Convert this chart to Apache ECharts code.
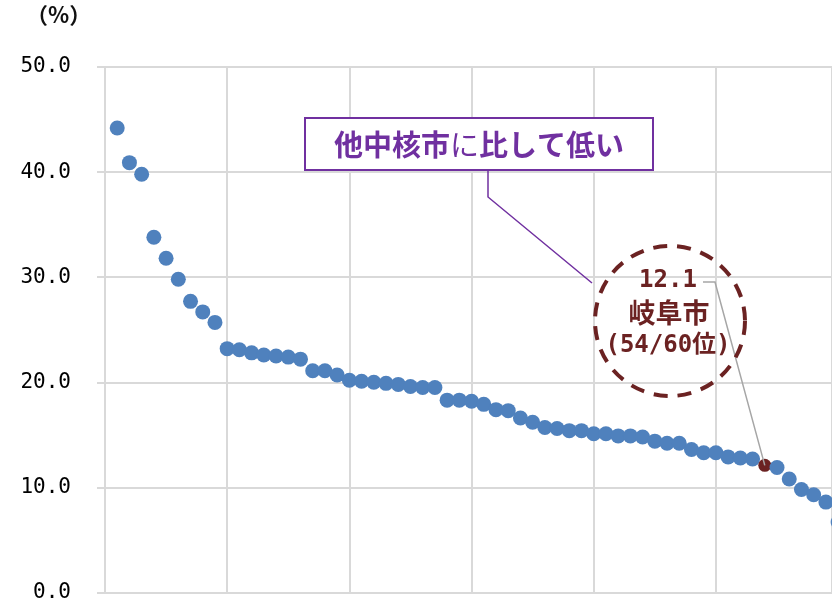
<!DOCTYPE html>
<html>
<head>
<meta charset="utf-8">
<script src="https://cdn.jsdelivr.net/npm/echarts@6/dist/echarts.min.js"></script>
<style>
  html, body { margin: 0; padding: 0; background: #fff; }
  #main { width: 832px; height: 603px; }
</style>
</head>
<body>
<div id="main"></div>
<script>
// 中核市60市の値（降順）
var ranks = [];
for (var i = 1; i <= 60; i++) ranks.push(i);
var values = [
  44.2, 40.9, 39.8, 33.8, 31.8, 29.8, 27.7, 26.7, 25.7, 23.2,
  23.1, 22.8, 22.6, 22.5, 22.4, 22.2, 21.1, 21.1, 20.7, 20.2,
  20.1, 20.0, 19.9, 19.8, 19.6, 19.5, 19.5, 18.3, 18.3, 18.2,
  17.9, 17.4, 17.3, 16.6, 16.2, 15.7, 15.6, 15.4, 15.4, 15.1,
  15.1, 14.9, 14.9, 14.8, 14.4, 14.2, 14.2, 13.6, 13.3, 13.3,
  12.9, 12.8, 12.7, 12.1, 11.9, 10.8, 9.8, 9.3, 8.6, 6.7
];
var yTicks = [0, 10, 20, 30, 40, 50];
var gifuRank = 54;
var calloutTitle = '他中核市に比して低い';
var gifuLabel = ['12.1', '岐阜市', '(54/60位)'];

var numFont = "'DejaVu Sans Mono', 'Noto Sans CJK JP', monospace";
var cjkFont = "'Noto Sans CJK JP', sans-serif";
var maroon = '#6b2222';
var purple = '#7030a0';

var chart = echarts.init(document.getElementById('main'));

var seriesData = ranks.map(function (r, i) {
  var item = { value: [r, values[i]] };
  if (r === gifuRank) {
    item.symbolSize = 13;
    item.itemStyle = { color: maroon, opacity: 1 };
  }
  return item;
});

var option = {
  animation: false,
  grid: { left: 105, top: 67, right: 0, height: 526 },
  xAxis: {
    type: 'value', min: 0, max: 59.5, interval: 10,
    axisLine: { show: true, lineStyle: { color: '#d9d9d9', width: 2 } },
    axisTick: { show: false },
    axisLabel: { show: false },
    splitLine: { show: true, lineStyle: { color: '#d9d9d9', width: 2 } }
  },
  yAxis: {
    type: 'value', min: yTicks[0], max: yTicks[yTicks.length - 1], interval: 10,
    axisLine: { show: true, lineStyle: { color: '#d9d9d9', width: 2 } },
    axisTick: { show: true, length: 8, lineStyle: { color: '#d9d9d9', width: 2 } },
    axisLabel: {
      margin: 34, color: '#000', fontSize: 21, fontFamily: numFont,
      formatter: function (v) { return v.toFixed(1); }
    },
    splitLine: { show: true, lineStyle: { color: '#d9d9d9', width: 2 } }
  },
  series: [{
    type: 'scatter',
    symbolSize: 15,
    clip: false,
    itemStyle: { color: '#4f81bd', opacity: 1 },
    data: seriesData,
    z: 3
  }]
};
chart.setOption(option);

// 注記（岐阜市の点に引き出し線をつなぐ）
var pt = chart.convertToPixel({ seriesIndex: 0 }, [gifuRank, values[gifuRank - 1]]);
var cx = 670, cy = 321, rad = 75;

chart.setOption({
  graphic: [
    { type: 'text', left: 26, top: 4,
      style: { text: '（%）', fontSize: 22, fontWeight: 'bold', fontFamily: cjkFont, fill: '#111' } },
    // 吹き出し: 他中核市に比して低い
    { type: 'polyline', z: 10,
      shape: { points: [[488, 170], [488, 197], [592, 283]] },
      style: { stroke: purple, lineWidth: 1.5, fill: null } },
    { type: 'rect', z: 11,
      shape: { x: 305, y: 118, width: 348, height: 52 },
      style: { fill: '#fff', stroke: purple, lineWidth: 2 } },
    { type: 'text', z: 12, x: 479, y: 145,
      style: {
        text: '{b|他中核市}{n|に}{b|比して低い}',
        align: 'center', verticalAlign: 'middle',
        rich: {
          b: { fontSize: 29, fontWeight: 'bold', fontFamily: cjkFont, fill: purple },
          n: { fontSize: 29, fontWeight: 'normal', fontFamily: cjkFont, fill: purple }
        }
      } },
    // 破線の円と岐阜市ラベル
    { type: 'circle', z: 10,
      shape: { cx: cx, cy: cy, r: rad },
      style: { fill: 'rgba(255,255,255,0)', stroke: maroon, lineWidth: 4, lineDash: [14, 10] } },
    { type: 'text', z: 12, x: 668, y: 281,
      style: { text: gifuLabel[0], align: 'center', verticalAlign: 'middle',
        fontSize: 24, fontWeight: 'bold', fontFamily: numFont, fill: maroon } },
    { type: 'text', z: 12, x: 669, y: 313,
      style: { text: gifuLabel[1], align: 'center', verticalAlign: 'middle',
        fontSize: 27, fontWeight: 'bold', fontFamily: cjkFont, fill: maroon } },
    { type: 'text', z: 12, x: 668, y: 346,
      style: { text: gifuLabel[2], align: 'center', verticalAlign: 'middle',
        fontSize: 24, fontWeight: 'bold', fontFamily: numFont, fill: maroon } },
    { type: 'polyline', z: 9,
      shape: { points: [[703, 282], [715, 282], [pt[0], pt[1]]] },
      style: { stroke: '#a6a6a6', lineWidth: 1.5, fill: null } }
  ]
});
</script>
</body>
</html>
